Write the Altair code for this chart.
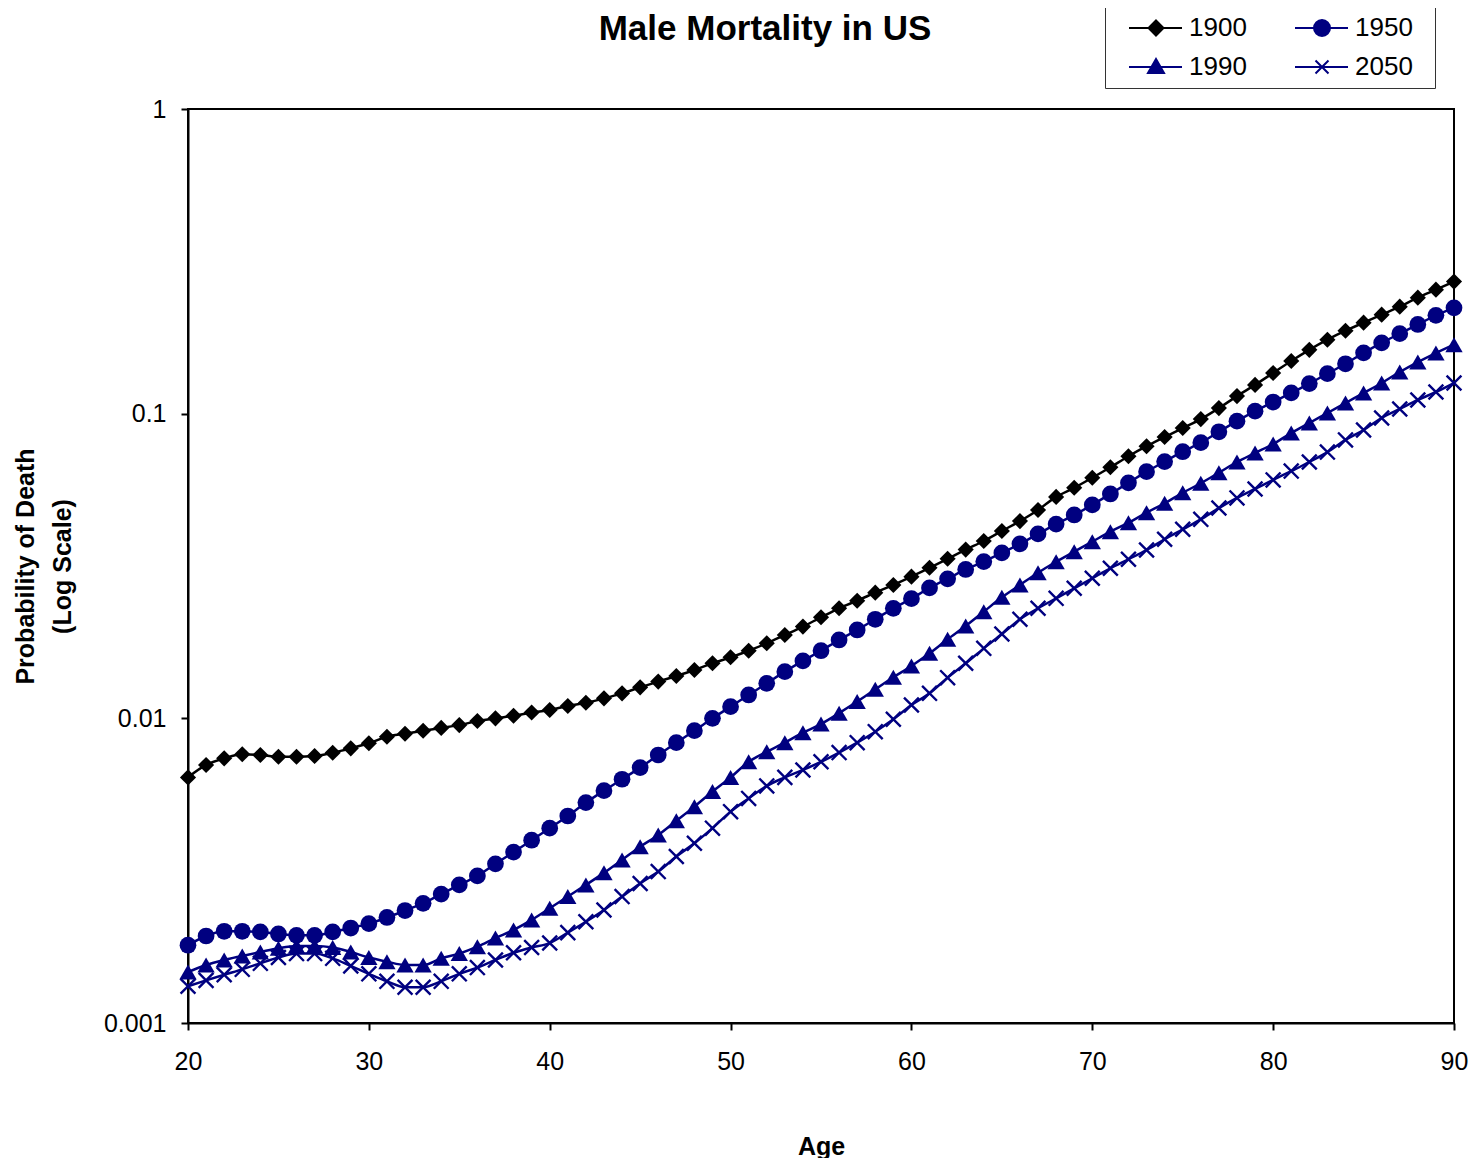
import altair as alt
import pandas as pd

ages = list(range(20, 91))
years = ["1900", "1950", "1990", "2050"]

v1900 = [0.00640, 0.00703, 0.00739, 0.00762, 0.00758, 0.00748, 0.00748, 0.00752, 0.00771, 0.00797,
         0.00828, 0.00870, 0.00890, 0.00910, 0.00930, 0.00950, 0.00980, 0.01000, 0.01020, 0.01045,
         0.01065, 0.01098, 0.01125, 0.01163, 0.01208, 0.01264, 0.01320, 0.01377, 0.01441, 0.01516,
         0.01586, 0.01667, 0.01763, 0.01877, 0.02000, 0.02146, 0.02297, 0.02433, 0.02585, 0.02740,
         0.02917, 0.03120, 0.03340, 0.03580, 0.03820, 0.04120, 0.04440, 0.04830, 0.05330, 0.05710,
         0.06160, 0.06670, 0.07250, 0.07820, 0.08380, 0.08970, 0.09600, 0.10430, 0.11420, 0.12430,
         0.13600, 0.14890, 0.16200, 0.17490, 0.18720, 0.19890, 0.21130, 0.22450, 0.24030, 0.25530,
         0.27130]
v1950 = [0.00180, 0.00193, 0.00200, 0.00200, 0.00199, 0.00196, 0.00194, 0.00194, 0.00199, 0.00205,
         0.00212, 0.00222, 0.00234, 0.00247, 0.00265, 0.00284, 0.00304, 0.00333, 0.00364, 0.00398,
         0.00436, 0.00478, 0.00529, 0.00579, 0.00631, 0.00689, 0.00758, 0.00832, 0.00911, 0.01000,
         0.01092, 0.01193, 0.01303, 0.01423, 0.01543, 0.01667, 0.01808, 0.01950, 0.02114, 0.02297,
         0.02470, 0.02680, 0.02870, 0.03080, 0.03270, 0.03490, 0.03740, 0.04030, 0.04340, 0.04650,
         0.05020, 0.05450, 0.05930, 0.06450, 0.06960, 0.07500, 0.08030, 0.08720, 0.09450, 0.10190,
         0.10920, 0.11700, 0.12550, 0.13530, 0.14580, 0.15840, 0.17080, 0.18300, 0.19620, 0.21030,
         0.22250]
v1990 = [0.00147, 0.00155, 0.00161, 0.00166, 0.00171, 0.00176, 0.00179, 0.00179, 0.00177, 0.00171,
         0.00164, 0.00159, 0.00155, 0.00155, 0.00163, 0.00169, 0.00178, 0.00190, 0.00202, 0.00218,
         0.00238, 0.00260, 0.00284, 0.00311, 0.00343, 0.00379, 0.00414, 0.00461, 0.00513, 0.00575,
         0.00640, 0.00720, 0.00777, 0.00832, 0.00897, 0.00958, 0.01040, 0.01135, 0.01245, 0.01364,
         0.01485, 0.01634, 0.01817, 0.02009, 0.02239, 0.02495, 0.02740, 0.03006, 0.03266, 0.03524,
         0.03801, 0.04100, 0.04387, 0.04732, 0.05078, 0.05500, 0.05910, 0.06400, 0.06940, 0.07430,
         0.07950, 0.08640, 0.09320, 0.10050, 0.10840, 0.11690, 0.12610, 0.13700, 0.14770, 0.15810,
         0.16840]
v2050 = [0.00132, 0.00138, 0.00144, 0.00150, 0.00157, 0.00164, 0.00169, 0.00169, 0.00163, 0.00154,
         0.00145, 0.00137, 0.00131, 0.00131, 0.00137, 0.00145, 0.00152, 0.00161, 0.00170, 0.00177,
         0.00183, 0.00198, 0.00215, 0.00235, 0.00260, 0.00287, 0.00314, 0.00352, 0.00389, 0.00436,
         0.00494, 0.00546, 0.00600, 0.00640, 0.00677, 0.00720, 0.00772, 0.00832, 0.00904, 0.00993,
         0.01106, 0.01208, 0.01360, 0.01516, 0.01697, 0.01891, 0.02114, 0.02297, 0.02477, 0.02672,
         0.02882, 0.03108, 0.03327, 0.03569, 0.03870, 0.04173, 0.04500, 0.04900, 0.05290, 0.05660,
         0.06060, 0.06480, 0.06940, 0.07480, 0.08200, 0.08840, 0.09680, 0.10360, 0.11090, 0.11780,
         0.12610]

series = {"1900": v1900, "1950": v1950, "1990": v1990, "2050": v2050}
colors = {"1900": "#000000", "1950": "#000080", "1990": "#000080", "2050": "#000080"}
color_range = [colors[y] for y in years]

rows = []
for y, vals in series.items():
    for a, v in zip(ages, vals):
        rows.append({"age": a, "year": y, "p": v})
df = pd.DataFrame(rows)

FONT = "Liberation Sans"

x_enc = alt.X("age:Q",
              scale=alt.Scale(domain=[20, 90], nice=False, zero=False),
              axis=alt.Axis(title="Age", values=list(range(20, 91, 10)), format="d",
                            grid=False, domainColor="black", domainWidth=2,
                            tickColor="black", tickWidth=2, tickSize=7,
                            labelFont=FONT, labelFontSize=25, labelColor="black",
                            labelPadding=19, labelFlush=False,
                            titleFont=FONT, titleFontSize=25, titleFontWeight="bold",
                            titleColor="black", titlePadding=60))
y_enc = alt.Y("p:Q",
              scale=alt.Scale(type="log", domain=[0.001, 1], nice=False),
              axis=alt.Axis(title=["Probability of Death", "(Log Scale)"],
                            values=[0.001, 0.01, 0.1, 1], format=".3~f",
                            grid=False, domainColor="black", domainWidth=2,
                            tickColor="black", tickWidth=2, tickSize=7,
                            labelFont=FONT, labelFontSize=25, labelColor="black",
                            labelPadding=15, labelFlush=False,
                            titleFont=FONT, titleFontSize=25, titleFontWeight="bold",
                            titleColor="black", titlePadding=28, titleLineHeight=37))

marker_specs = {
    "1900": dict(shape="diamond", size=260, filled=True),
    "1950": dict(shape="circle", size=280, filled=True),
    "1990": dict(shape="triangle-up", size=300, filled=True),
    "2050": dict(shape="M-1,-1L1,1M-1,1L1,-1", size=220, filled=False, strokeWidth=2.4),
}

layers = []
for i, y in enumerate(years):
    base = alt.Chart(df).transform_filter(alt.datum.year == y)
    if i == 0:
        enc = dict(x=x_enc, y=y_enc)
    else:
        enc = dict(x="age:Q", y="p:Q")
    layers.append(base.mark_line(strokeWidth=2.5, interpolate="monotone", color=colors[y]).encode(**enc))
for y in years:
    spec = marker_specs[y]
    layers.append(
        alt.Chart(df).transform_filter(alt.datum.year == y).mark_point(
            color=colors[y], opacity=1, **spec
        ).encode(x="age:Q", y="p:Q")
    )

legend_paths = [
    "M-1,0M0.3,0H5.6M3.0,-0.75L3.75,0L3.0,0.75L2.25,0Z",
    "M-1,0M0.3,0H5.6M3.8,0A0.8,0.8 0 1 1 2.2,0A0.8,0.8 0 1 1 3.8,0ZM13.1,0",
    "M-1,0M0.3,0H5.6M3.0,-0.8L3.8,0.6L2.2,0.6Z",
    "M-1,0M0.3,0H5.6M2.35,-0.65L3.65,0.65M2.35,0.65L3.65,-0.65M13.1,0",
]
leg = alt.Legend(
    title=None, orient="none", legendX=917, legendY=-102,
    direction="horizontal", columns=2, columnPadding=31, rowPadding=13,
    symbolSize=400, symbolStrokeWidth=2, symbolOpacity=1, labelOffset=50,
    labelFont=FONT, labelFontSize=26, labelColor="black",
    strokeColor="#333333", padding=8, fillColor="white",
)
legend_layer = alt.Chart(df).mark_point(
    filled=True, strokeWidth=2, opacity=0
).encode(
    x="age:Q", y="p:Q",
    fill=alt.Fill("year:N", scale=alt.Scale(domain=years, range=color_range), legend=leg),
    stroke=alt.Stroke("year:N", scale=alt.Scale(domain=years, range=color_range), legend=leg),
    shape=alt.Shape("year:N", scale=alt.Scale(domain=years, range=legend_paths), legend=leg),
)
layers.append(legend_layer)

chart = alt.layer(*layers).properties(
    width=1266, height=914,
    title=alt.TitleParams("Male Mortality in US", font=FONT, fontSize=35, fontWeight="bold",
                          color="black", anchor="middle", dx=-56, dy=40, offset=0),
    autosize=alt.AutoSizeParams(type="none"),
    padding={"left": 180, "top": 101, "right": 15, "bottom": 135},
).configure(
    background="white",
    view=alt.ViewConfig(stroke="black", strokeWidth=2),
)

chart.save("out.html", embed_options={"renderer": "svg", "actions": False})
